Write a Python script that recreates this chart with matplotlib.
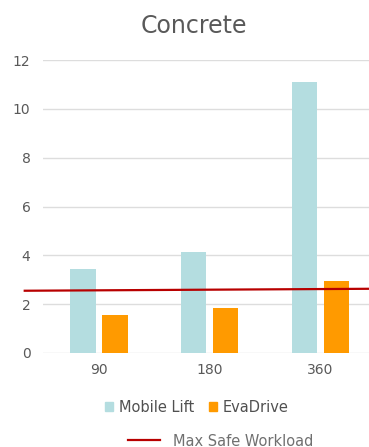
import numpy as np
import matplotlib.pyplot as plt
from matplotlib.patches import Patch
from matplotlib.lines import Line2D

# data
categories = ['90', '180', '360']
mobile_lift = [3.42, 4.15, 11.08]
eva_drive = [1.56, 1.84, 2.95]
max_safe = [2.55, 2.63]   # line runs slightly upward from left to right
y_ticks = [0, 2, 4, 6, 8, 10, 12]

c_lift = '#B4DDE0'
c_eva = '#FF9A00'
c_line = '#B80000'
c_text = '#595959'

fig = plt.figure(figsize=(3.69, 4.47), dpi=100)
ax = fig.add_axes([43/369, 94/447, 1 - 43/369, 293/447])

x = np.arange(len(categories))
w = 0.23
ax.bar(x - 0.145, mobile_lift, w, color=c_lift, zorder=2)
ax.bar(x + 0.145, eva_drive, w, color=c_eva, zorder=2)

ax.set_xlim(-0.505, 2.44)
ax.set_ylim(0, 12)
ax.set_yticks(y_ticks)
ax.set_xticks(x)
ax.set_xticklabels(categories)
ax.grid(axis='y', color='#DDDDDD', linewidth=1.0, zorder=0)
for s in ax.spines.values():
    s.set_visible(False)
ax.tick_params(axis='both', length=0, colors=c_text, labelsize=10)
ax.tick_params(axis='y', pad=9)
ax.tick_params(axis='x', pad=7)

# red line sticks out past the left of the plot area
x0, x1 = ax.get_xlim()
ax.plot([x0 - 0.165, x1], max_safe, color=c_line, linewidth=1.6,
        clip_on=False, zorder=3)

fig.text(194/369, 1 - 26/447, 'Concrete', ha='center', va='center',
         fontsize=17, color=c_text)

h1 = [Patch(color=c_lift, label='Mobile Lift'), Patch(color=c_eva, label='EvaDrive')]
fig.legend(handles=h1, loc='center', bbox_to_anchor=(197/369, 1 - 407/447),
           ncol=2, frameon=False, fontsize=10.5, handlelength=0.55,
           handleheight=0.55, handletextpad=0.4, columnspacing=1.0,
           labelcolor='#505050')
h2 = [Line2D([0], [0], color=c_line, linewidth=1.6, label='Max Safe Workload')]
fig.legend(handles=h2, loc='center', bbox_to_anchor=(221/369, 1 - 441/447),
           frameon=False, fontsize=10.5, handlelength=2.2, handletextpad=0.9,
           labelcolor='#707070')

plt.savefig('out.png', dpi=100)
